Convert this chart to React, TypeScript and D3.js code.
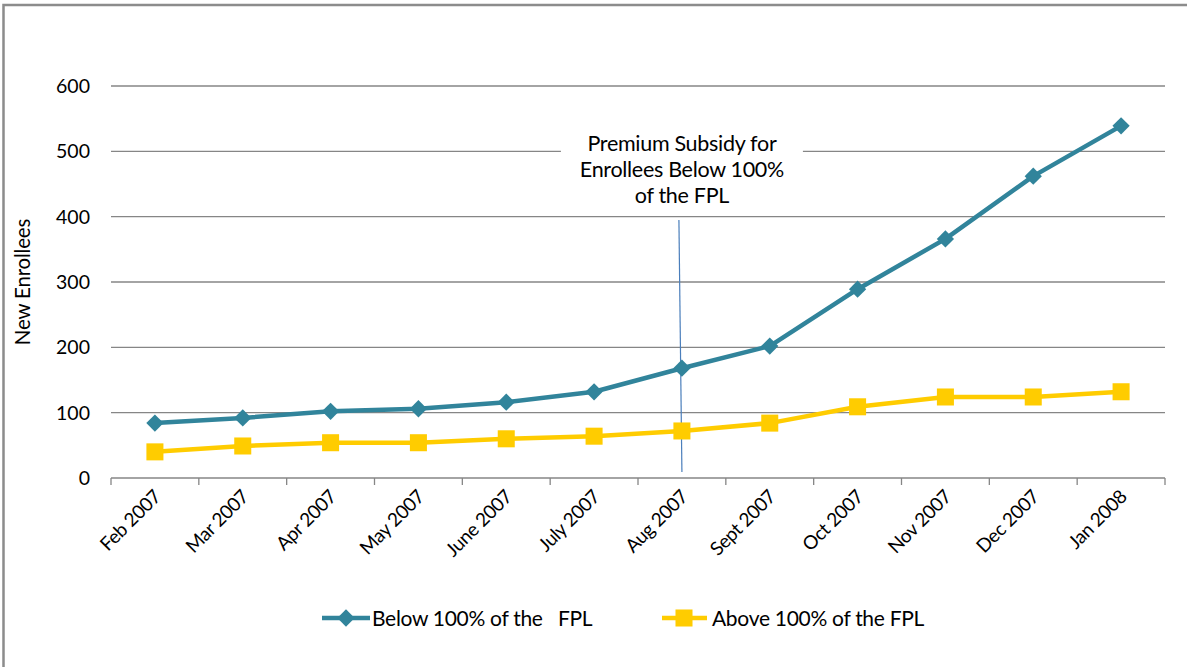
import React from 'react';
import * as d3 from 'd3';

const months = ['Feb 2007', 'Mar 2007', 'Apr 2007', 'May 2007', 'June 2007', 'July 2007',
  'Aug 2007', 'Sept 2007', 'Oct 2007', 'Nov 2007', 'Dec 2007', 'Jan 2008'];
const below = [84, 92, 102, 106, 116, 132, 168, 202, 289, 366, 462, 539];
const above = [40, 49, 54, 54, 60, 64, 72, 84, 109, 124, 124, 132];
const yTicks = [0, 100, 200, 300, 400, 500, 600];
const noteLines = ['Premium Subsidy for', 'Enrollees Below 100%', 'of the FPL'];
const legendNames = ['Below 100% of the\u00a0\u00a0 FPL', 'Above 100% of the FPL'];

const W = 1187, H = 667;
const font = 'Lato, "Open Sans", sans-serif';

export default function App() {
  const margin = { top: 86, right: 22, bottom: 189, left: 111 };

  const x = d3.scaleBand<string>()
    .domain(months)
    .range([margin.left, W - margin.right]);
  const y = d3.scaleLinear()
    .domain([0, 600])
    .range([H - margin.bottom, margin.top]);

  const cx = (m: string) => (x(m) as number) + x.bandwidth() / 2;

  const line = d3.line<number>()
    .x((d, i) => cx(months[i]))
    .y(d => y(d));

  const teal = '#31849b';
  const gold = '#ffcc00';
  const grid = '#868686';
  const diamond = d3.symbol().type(d3.symbolDiamond2).size(190)();
  const square = d3.symbol().type(d3.symbolSquare).size(290)();

  const noteX = cx('Aug 2007');

  return (
    <svg width={W} height={H} style={{ position: 'absolute', left: 0, top: 0 }} fontFamily={font}>
      <rect x={0} y={0} width={W} height={H} fill="#fff" />
      <rect x={3.5} y={5} width={W + 10} height={H + 10} fill="none" stroke="#8c8c8c" strokeWidth={2.5} />

      {/* gridlines */}
      {yTicks.slice(1).map(t => (
        <line key={t} x1={margin.left} x2={W - margin.right} y1={y(t)} y2={y(t)} stroke={grid} strokeWidth={1.3} />
      ))}
      {yTicks.map(t => (
        <text key={'l' + t} x={90} y={y(t)} dy="0.36em" textAnchor="end" fontSize={19.5} fill="#000">{t}</text>
      ))}

      {/* x axis */}
      <line x1={margin.left} x2={W - margin.right} y1={y(0)} y2={y(0)} stroke={grid} strokeWidth={1.3} />
      {months.map(m => (
        <line key={'t' + m} x1={x(m)} x2={x(m)} y1={y(0)} y2={y(0) + 7} stroke={grid} strokeWidth={1.3} />
      ))}
      <line x1={W - margin.right} x2={W - margin.right} y1={y(0)} y2={y(0) + 7} stroke={grid} strokeWidth={1.3} />
      {months.map(m => (
        <text key={'x' + m} transform={`translate(${cx(m) + 7},${y(0) + 20}) rotate(-45)`}
          textAnchor="end" fontSize={19} letterSpacing={-0.4} fill="#000">{m}</text>
      ))}

      <text transform={`translate(30,${(y(0) + y(600)) / 2}) rotate(-90)`} textAnchor="middle"
        fontSize={20.5} letterSpacing={-0.2} fill="#000">New Enrollees</text>

      {/* annotation */}
      <rect x={noteX - 121} y={125} width={242} height={88} fill="#fff" />
      {noteLines.map((s, i) => (
        <text key={s} x={noteX} y={151 + i * 26} textAnchor="middle" fontSize={21.5} letterSpacing={-0.3} fill="#000">{s}</text>
      ))}
      <line x1={noteX - 3} y1={220} x2={noteX} y2={472} stroke="#4a7ebb" strokeWidth={1.2} />

      {/* series */}
      <path d={line(above) || ''} fill="none" stroke={gold} strokeWidth={4.5} strokeLinejoin="round" />
      {above.map((v, i) => (
        <path key={'a' + i} d={square || ''} transform={`translate(${cx(months[i])},${y(v)})`} fill={gold} />
      ))}
      <path d={line(below) || ''} fill="none" stroke={teal} strokeWidth={4.5} strokeLinejoin="round" />
      {below.map((v, i) => (
        <path key={'b' + i} d={diamond || ''} transform={`translate(${cx(months[i])},${y(v)})`} fill={teal} />
      ))}

      {/* legend */}
      <g>
        <line x1={322} x2={370} y1={618} y2={618} stroke={teal} strokeWidth={4.5} />
        <path d={diamond || ''} transform="translate(346,618)" fill={teal} />
        <text x={372} y={618} dy="0.36em" fontSize={21} letterSpacing={-0.3} fill="#000">{legendNames[0]}</text>
        <line x1={662} x2={707} y1={618} y2={618} stroke={gold} strokeWidth={4.5} />
        <path d={square || ''} transform="translate(684,618)" fill={gold} />
        <text x={712} y={618} dy="0.36em" fontSize={21} letterSpacing={-0.3} fill="#000">{legendNames[1]}</text>
      </g>
    </svg>
  );
}
